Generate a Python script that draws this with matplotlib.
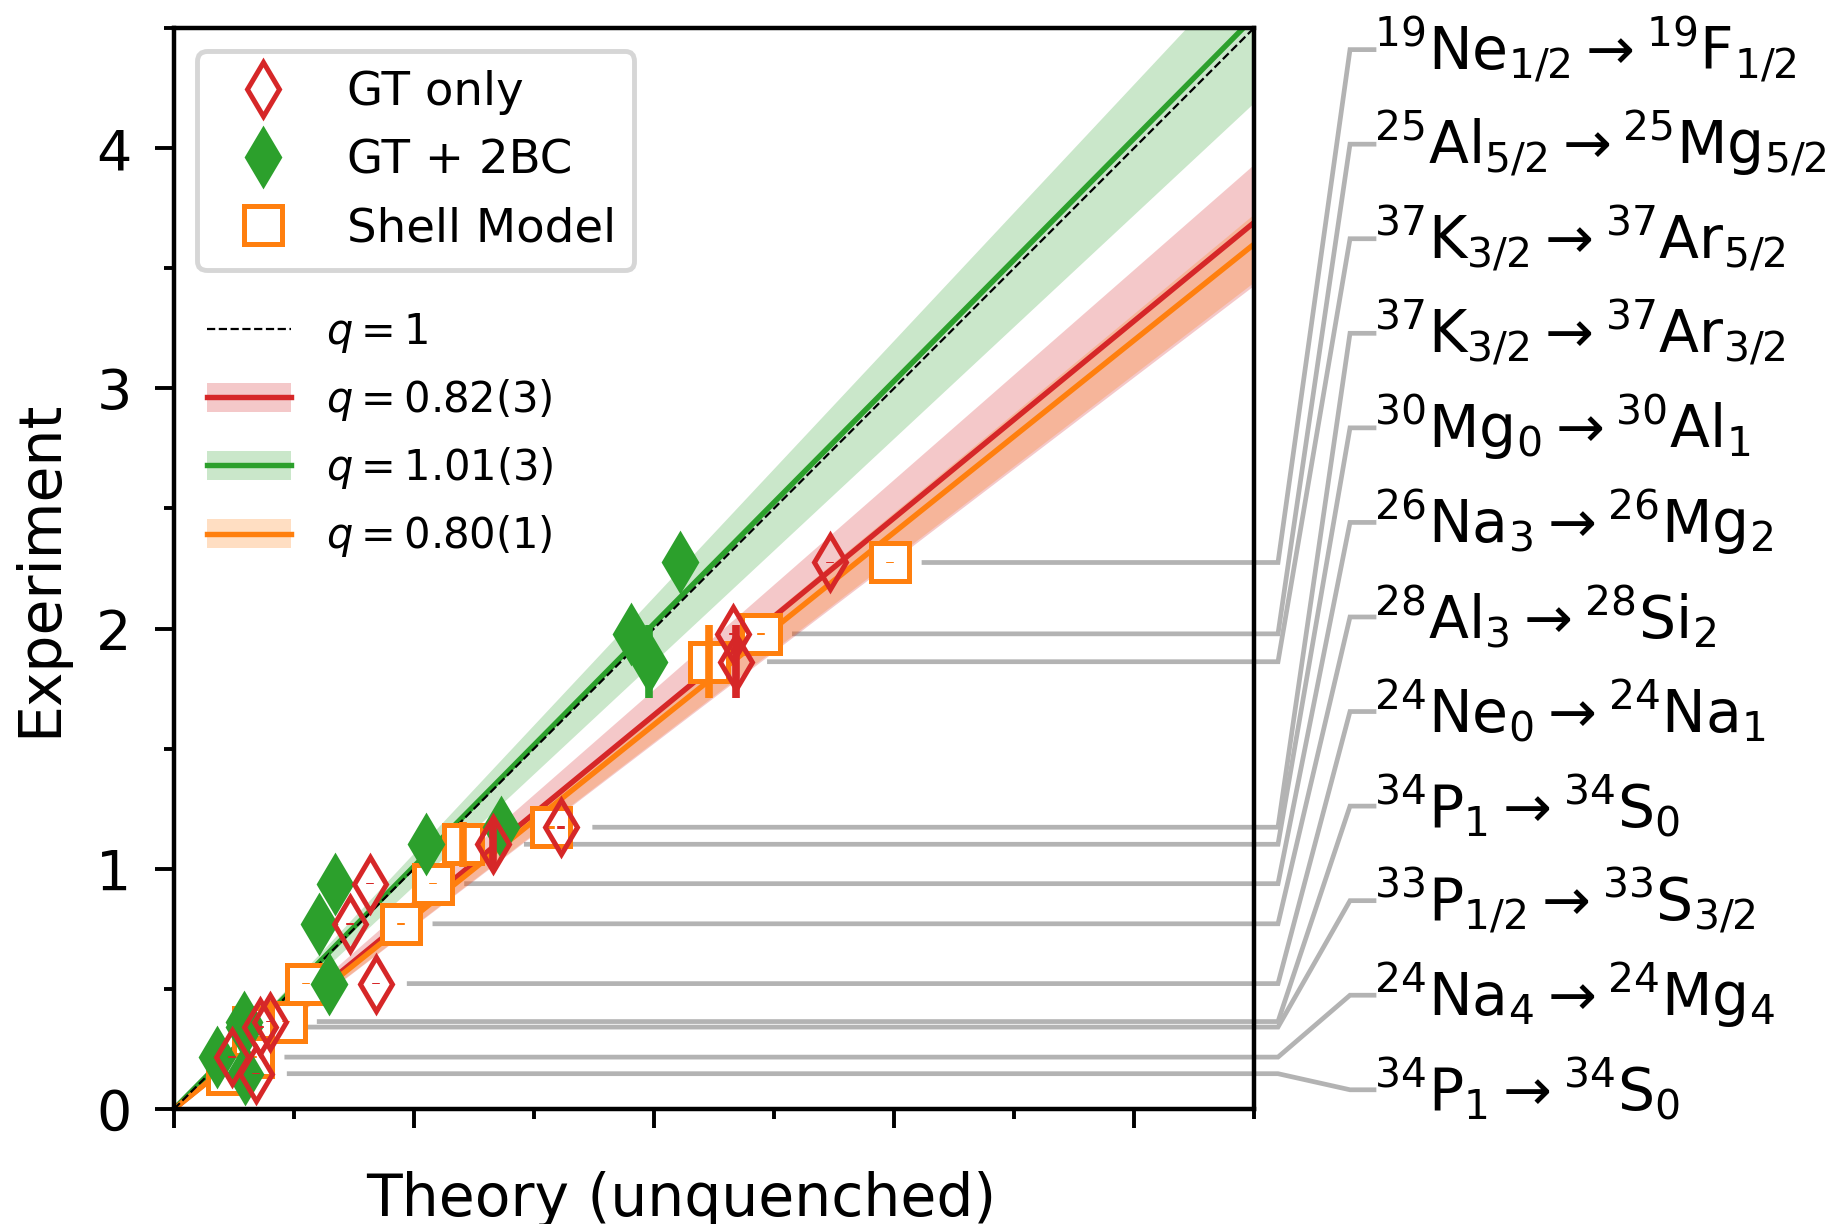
import numpy as np
import matplotlib
matplotlib.use('Agg')
import matplotlib.pyplot as plt
from matplotlib.lines import Line2D
from matplotlib.patches import Patch

# ---------------- data ----------------
labels = [
    r'$^{19}\mathrm{Ne}_{1/2} \rightarrow {}^{19}\mathrm{F}_{1/2}$',
    r'$^{25}\mathrm{Al}_{5/2} \rightarrow {}^{25}\mathrm{Mg}_{5/2}$',
    r'$^{37}\mathrm{K}_{3/2} \rightarrow {}^{37}\mathrm{Ar}_{5/2}$',
    r'$^{37}\mathrm{K}_{3/2} \rightarrow {}^{37}\mathrm{Ar}_{3/2}$',
    r'$^{30}\mathrm{Mg}_{0} \rightarrow {}^{30}\mathrm{Al}_{1}$',
    r'$^{26}\mathrm{Na}_{3} \rightarrow {}^{26}\mathrm{Mg}_{2}$',
    r'$^{28}\mathrm{Al}_{3} \rightarrow {}^{28}\mathrm{Si}_{2}$',
    r'$^{24}\mathrm{Ne}_{0} \rightarrow {}^{24}\mathrm{Na}_{1}$',
    r'$^{34}\mathrm{P}_{1} \rightarrow {}^{34}\mathrm{S}_{0}$',
    r'$^{33}\mathrm{P}_{1/2} \rightarrow {}^{33}\mathrm{S}_{3/2}$',
    r'$^{24}\mathrm{Na}_{4} \rightarrow {}^{24}\mathrm{Mg}_{4}$',
    r'$^{34}\mathrm{P}_{1} \rightarrow {}^{34}\mathrm{S}_{0}$',
]
experiment = [2.275, 1.978, 1.862, 1.173, 1.102, 0.938, 0.771, 0.522, 0.364, 0.341, 0.216, 0.147]
experiment_err = [0.003, 0.003, 0.153, 0.007, 0.094, 0.003, 0.003, 0.003, 0.003, 0.003, 0.003, 0.003]
gt_only = [2.735, 2.331, 2.341, 1.613, 1.328, 0.815, 0.735, 0.840, 0.400, 0.360, 0.240, 0.340]
gt_2bc = [2.108, 1.904, 1.980, 1.363, 1.051, 0.670, 0.605, 0.646, 0.290, 0.290, 0.180, 0.295]
shell_model = [2.985, 2.445, 2.230, 1.571, 1.204, 1.079, 0.947, 0.552, 0.465, 0.330, 0.330, 0.220]

fit_names = [r'$q = 0.82(3)$', r'$q = 1.01(3)$', r'$q = 0.80(1)$']
fit_q = [0.82, 1.01, 0.80]
fit_band_lo = [0.762, 0.931, 0.765]
fit_band_hi = [0.874, 1.067, 0.828]

RED = '#d62728'
GREEN = '#2ca02c'
ORANGE = '#ff7f0e'
GRAY = '#b3b3b3'
fit_colors = [RED, GREEN, ORANGE]

# ---------------- figure ----------------
fig = plt.figure(figsize=(18.45, 12.24), dpi=100)
ax = fig.add_axes([174 / 1845, 115 / 1224, 1080 / 1845, 1081 / 1224])
ax.set_xlim(0, 4.5)
ax.set_ylim(0, 4.5)

xx = np.array([0.0, 4.5])
for lo, hi, c in zip(fit_band_lo, fit_band_hi, fit_colors):
    ax.fill_between(xx, lo * xx, hi * xx, color=c, alpha=0.25, lw=0, zorder=1)
for q, c in zip(fit_q, fit_colors):
    ax.plot(xx, q * xx, color=c, lw=3.9, zorder=2, solid_capstyle='butt')
ax.plot(xx, xx, color='k', ls='--', lw=1.6, zorder=2.5)

MS = 27
MEW = 3.6
ELW = 5.5
# Shell model
ax.plot(shell_model, experiment, ls='none', marker='s', ms=MS, mfc='white', mec=ORANGE, mew=MEW, zorder=3)
ax.errorbar(shell_model, experiment, yerr=experiment_err, fmt='none', ecolor=ORANGE, elinewidth=ELW, zorder=3.1)
# GT + 2BC
ax.plot(gt_2bc, experiment, ls='none', marker='d', ms=MS, mfc=GREEN, mec=GREEN, mew=MEW, zorder=4)
ax.errorbar(gt_2bc, experiment, yerr=experiment_err, fmt='none', ecolor=GREEN, elinewidth=ELW, zorder=4.1)
# GT only
ax.plot(gt_only, experiment, ls='none', marker='d', ms=MS, mfc='none', mec=RED, mew=MEW, zorder=5)
ax.errorbar(gt_only, experiment, yerr=experiment_err, fmt='none', ecolor=RED, elinewidth=ELW, zorder=5.1)

# connectors & labels
label_y = np.linspace(4.41, 0.08, len(labels))
for i, lab in enumerate(labels):
    x0 = max(gt_only[i], gt_2bc[i], shell_model[i]) + 0.14
    ax.plot([x0, 4.6, 4.9, 5.0], [experiment[i], experiment[i], label_y[i], label_y[i]],
            color=GRAY, lw=3.4, clip_on=False, zorder=0.5, solid_joinstyle='miter')
    ax.text(5.0, label_y[i], lab, fontsize=42, va='center', ha='left')

# axes styling
ax.set_xticks([0, 1, 2, 3, 4])
ax.set_xticks([0.5, 1.5, 2.5, 3.5, 4.5], minor=True)
ax.set_yticks([0, 1, 2, 3, 4])
ax.set_yticks([0.5, 1.5, 2.5, 3.5, 4.5], minor=True)
ax.tick_params(which='major', length=13.5, width=2.8, labelsize=40, pad=17)
ax.tick_params(which='minor', length=7, width=2.8)
ax.tick_params(axis='x', labelbottom=False)
for s in ax.spines.values():
    s.set_linewidth(3.2)
    s.set_zorder(6)

ax.set_xlabel('Theory (unquenched)', fontsize=42)
ax.xaxis.set_label_coords(0.4695, -0.057)
ax.set_ylabel('Experiment', fontsize=42)
ax.yaxis.set_label_coords(-0.098, 0.5)

# legends
h1 = [Line2D([], [], ls='none', marker='d', ms=MS, mfc='none', mec=RED, mew=MEW),
      Line2D([], [], ls='none', marker='d', ms=MS, mfc=GREEN, mec=GREEN, mew=MEW),
      Line2D([], [], ls='none', marker='s', ms=MS, mfc='white', mec=ORANGE, mew=MEW)]
leg1 = ax.legend(h1, ['GT only', 'GT + 2BC', 'Shell Model'], loc='upper left', fontsize=33.6,
                 framealpha=1, edgecolor='#d6d6d6', fancybox=True, numpoints=1)
leg1.get_frame().set_linewidth(3.5)
leg1.set_zorder(7)
ax.add_artist(leg1)

h2 = [Line2D([], [], color='k', ls='--', lw=1.6)]
for c in fit_colors:
    h2.append((Patch(facecolor=c, alpha=0.25, lw=0), Line2D([], [], color=c, lw=3.9)))
leg2 = ax.legend(h2, [r'$q = 1$'] + fit_names, loc='upper left', bbox_to_anchor=(-0.004, 0.773),
                 fontsize=30, frameon=False, labelspacing=0.53, handletextpad=0.85)
leg2.set_zorder(7)

fig.savefig('out.png', dpi=100)
